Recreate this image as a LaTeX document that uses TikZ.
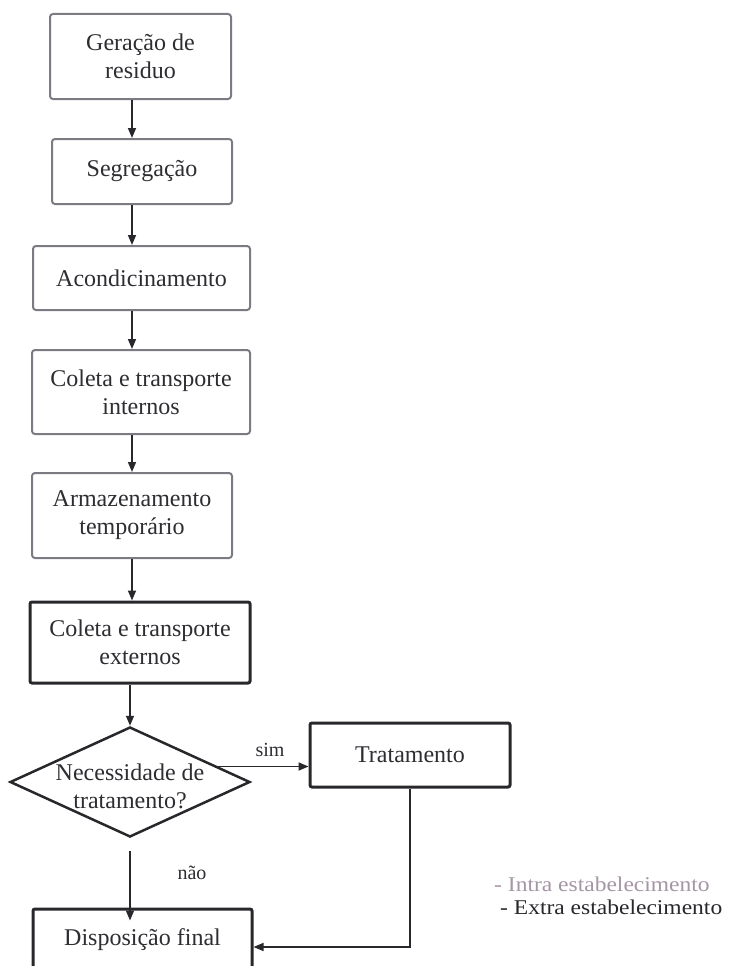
\documentclass[tikz,border=0pt]{standalone}
\usepackage{fontspec}
\setmainfont{Liberation Serif}
\newfontfamily\legfont[FakeStretch=1.12]{Liberation Serif}
\usetikzlibrary{shapes.geometric,arrows.meta,calc}
\definecolor{intra}{RGB}{125,122,132}
\definecolor{extra}{RGB}{40,40,44}
\definecolor{ink}{RGB}{45,45,50}
\definecolor{legintra}{RGB}{165,150,165}
\tikzset{
  intrabox/.style={draw=intra, line width=2pt, rounded corners=3pt, inner sep=0pt, align=center, text=ink, font=\fontsize{24}{28}\selectfont},
  extrabox/.style={draw=extra, line width=3pt, rounded corners=2pt, inner sep=0pt, align=center, text=ink, font=\fontsize{24}{28}\selectfont},
  arr/.style={draw=extra, line width=1.6pt, -{Triangle[length=10pt,width=8pt]}},
  lbl/.style={text=ink, font=\fontsize{20}{22}\selectfont, inner sep=0pt},
  leg/.style={font=\legfont\fontsize{21}{22}\selectfont, inner sep=0pt, anchor=west}
}
\begin{document}
\begin{tikzpicture}[x=1pt,y=-1pt]
\useasboundingbox[fill=white] (0,0) rectangle (739,966);
\coordinate (ax) at (132,0);
\node[intrabox, minimum width=181, minimum height=85] (b1) at (140.5,56.5) {Geração de\\residuo};
\node[intrabox, minimum width=180, minimum height=65] (b2) at (142,171.5) {Segregação};
\node[intrabox, minimum width=217, minimum height=64] (b3) at (141.5,278) {Acondicinamento};
\node[intrabox, minimum width=218, minimum height=84] (b4) at (141,392) {Coleta e transporte\\internos};
\node[intrabox, minimum width=200, minimum height=85] (b5) at (132,515.5) {Armazenamento\\temporário};
\node[extrabox, minimum width=220, minimum height=81] (b6) at (140,642.5) {Coleta e transporte\\externos};
\node[diamond, draw=extra, line width=2.5pt, minimum width=240, minimum height=110, inner sep=0pt] (dia) at (130,782) {};
\node[align=center, text=ink, inner sep=0pt, font=\fontsize{24}{28}\selectfont] (diat) at (130,786) {Necessidade de\\tratamento?};
\node[extrabox, minimum width=200, minimum height=64] (tr) at (410,755) {Tratamento};
\node[extrabox, minimum width=219, minimum height=62] (disp) at (142.5,940) {Disposição final};

\draw[arr] (b1.south -| ax) -- (b2.north -| ax);
\draw[arr] (b2.south -| ax) -- (b3.north -| ax);
\draw[arr] (b3.south -| ax) -- (b4.north -| ax);
\draw[arr] (b4.south -| ax) -- (b5.north -| ax);
\draw[arr] (b5.south -| ax) -- (b6.north -| ax);
\draw[arr] (b6.south -| dia.north) -- (dia.north);
\draw[arr] (dia.10) -- (dia.10 -| tr.west);
\draw[arr] ([yshift=-13pt]dia.south) -- ([yshift=-13pt]dia.south |- disp.north);
\draw[arr] (tr.south) |- ([yshift=-7pt]disp.east);

\node[lbl] (sim) at (270,750) {sim};
\node[lbl] (nao) at (192,873) {não};

\node[leg, text=legintra] (li) at (494,884) {- Intra estabelecimento};
\node[leg, text=extra] (le) at (500,907) {- Extra estabelecimento};
\end{tikzpicture}
\end{document}
